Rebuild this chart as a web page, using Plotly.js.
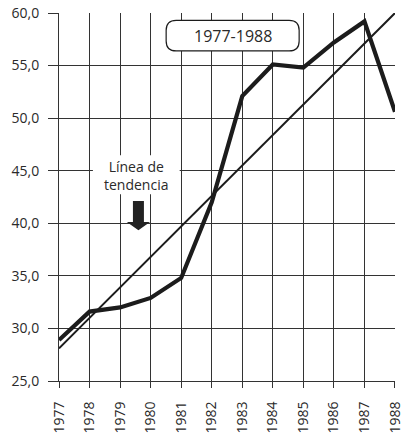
<!DOCTYPE html>
<html>
<head>
<meta charset="utf-8">
<script src="https://cdn.plot.ly/plotly-3.0.1.min.js"></script>
<style>
html,body{margin:0;padding:0;background:#fff;}
#chart{width:403px;height:436px;}
</style>
</head>
<body>
<div id="chart"></div>
<script>
const years = [1977, 1978, 1979, 1980, 1981, 1982, 1983, 1984, 1985, 1986, 1987, 1988];
const values = [28.9, 31.6, 32.0, 32.9, 34.8, 42.0, 52.1, 55.1, 54.8, 57.2, 59.2, 50.6];
const trendYears = [1977, 1988];
const trendValues = [28.1, 60.0];
const yTicks = [25, 30, 35, 40, 45, 50, 55, 60];
const periodLabel = '1977-1988';
const trendLabel = 'Línea de<br>tendencia';

const FONT = 'Open Sans, Noto Sans, sans-serif';
const INK = '#1c1c1c';
const GRID = '#333333';

const traces = [
  {x: trendYears, y: trendValues, type: 'scatter', mode: 'lines',
   line: {color: INK, width: 2}, hoverinfo: 'skip'},
  {x: years, y: values, type: 'scatter', mode: 'lines',
   line: {color: INK, width: 4.2}, hoverinfo: 'skip'}
];

const boxPath = (w, h, r) =>
  `M ${-w + r},${-h} L ${w - r},${-h} Q ${w},${-h} ${w},${-h + r} L ${w},${h - r} Q ${w},${h} ${w - r},${h} ` +
  `L ${-w + r},${h} Q ${-w},${h} ${-w},${h - r} L ${-w},${-h + r} Q ${-w},${-h} ${-w + r},${-h} Z`;

const layout = {
  width: 403, height: 436,
  margin: {l: 59, r: 8, t: 13, b: 55},
  paper_bgcolor: '#fff', plot_bgcolor: '#fff',
  showlegend: false,
  separators: ',.',
  font: {family: FONT, size: 14, color: '#2a2a2a'},
  xaxis: {
    range: [1976.9995, 1988.0005], tickmode: 'array', tickvals: years, ticktext: years.map(String),
    tickangle: -90, ticks: 'outside', ticklen: 6, tickcolor: GRID, tickwidth: 1,
    showgrid: true, gridcolor: GRID, gridwidth: 1,
    showline: true, linecolor: GRID, linewidth: 1,
    zeroline: false, fixedrange: true, ticklabelstandoff: 8, automargin: false,
    ticklabeloverflow: 'allow',
    tickfont: {family: FONT, size: 14, color: '#2a2a2a'}
  },
  yaxis: {
    range: [25, 60], tickmode: 'array', tickvals: yTicks, tickformat: '.1f',
    ticks: 'outside', ticklen: 10, tickcolor: GRID, tickwidth: 1,
    showgrid: true, gridcolor: GRID, gridwidth: 1,
    showline: true, linecolor: GRID, linewidth: 1,
    zeroline: false, fixedrange: true, ticklabelstandoff: 6, automargin: false,
    ticklabeloverflow: 'allow',
    tickfont: {family: FONT, size: 14, color: '#2a2a2a'}
  },
  shapes: [
    {type: 'rect', layer: 'between', xref: 'x', yref: 'y',
     x0: 1978.11, x1: 1980.95, y0: 42.76, y1: 46.47,
     fillcolor: '#fff', line: {width: 0}},
    {type: 'path', layer: 'above', xref: 'x', yref: 'y',
     path: 'M 1979.42,42.13 L 1979.78,42.13 L 1979.78,40.13 L 1979.98,40.13 L 1979.6,39.34 L 1979.22,40.13 L 1979.42,40.13 Z',
     fillcolor: '#222', line: {width: 0}},
    {type: 'path', layer: 'above', xref: 'x', yref: 'y',
     xsizemode: 'pixel', ysizemode: 'pixel', xanchor: 1982.685, yanchor: 57.85,
     path: boxPath(66.5, 15.3, 10),
     fillcolor: '#fff', line: {color: INK, width: 1.2}}
  ],
  annotations: [
    {x: 1982.685, y: 57.85, xref: 'x', yref: 'y', text: periodLabel, showarrow: false,
     xanchor: 'center', yanchor: 'middle', font: {family: FONT, size: 16, color: '#2a2a2a'}},
    {x: 1979.53, y: 44.55, xref: 'x', yref: 'y', text: trendLabel, showarrow: false,
     xanchor: 'center', yanchor: 'middle', align: 'center',
     font: {family: FONT, size: 14, color: '#2a2a2a'}}
  ]
};

Plotly.newPlot('chart', traces, layout, {displayModeBar: false, staticPlot: true});
</script>
</body>
</html>
